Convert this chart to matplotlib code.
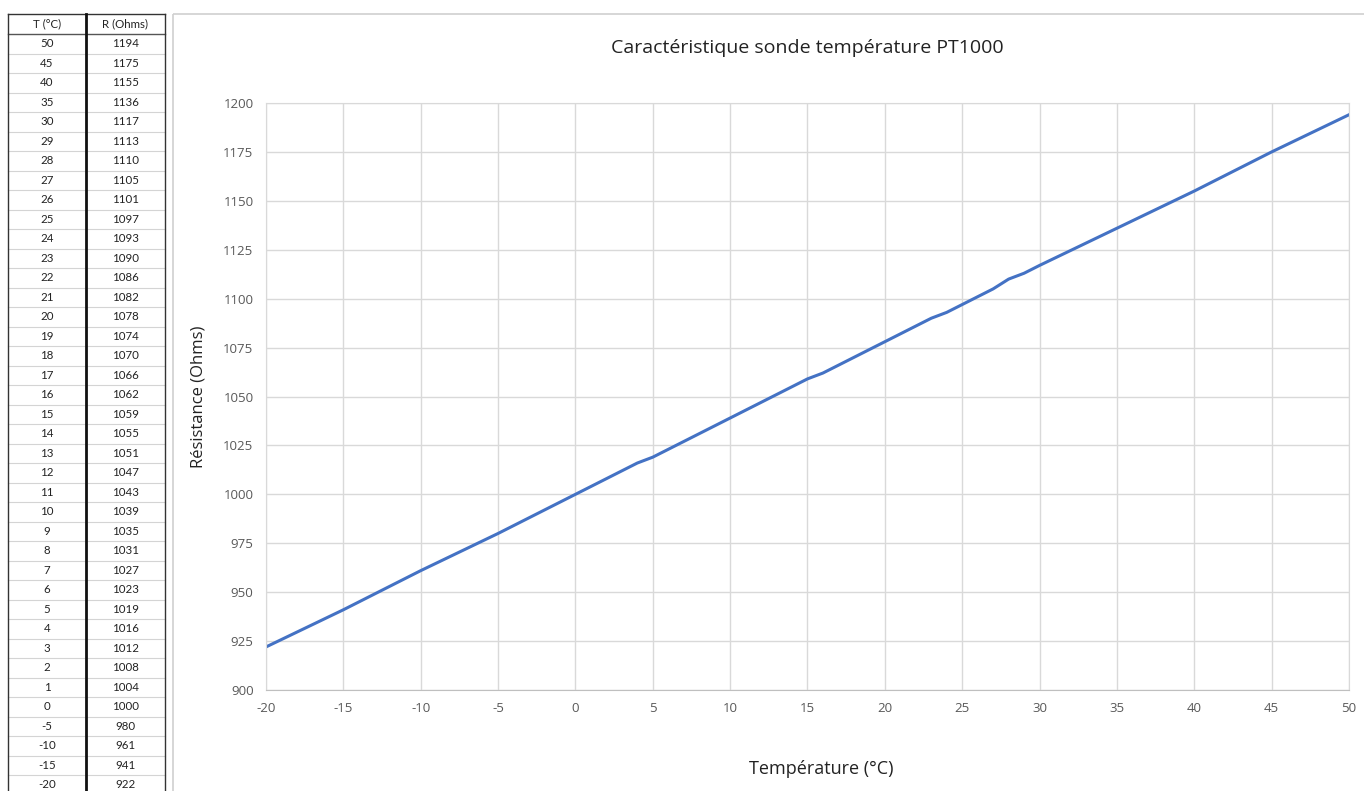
import matplotlib.pyplot as plt
from matplotlib.patches import Rectangle

# Données du tableau (T en °C, R en Ohms)
temperatures = [50, 45, 40, 35, 30, 29, 28, 27, 26, 25, 24, 23, 22, 21, 20, 19, 18, 17, 16, 15,
                14, 13, 12, 11, 10, 9, 8, 7, 6, 5, 4, 3, 2, 1, 0, -5, -10, -15, -20]
resistances = [1194, 1175, 1155, 1136, 1117, 1113, 1110, 1105, 1101, 1097, 1093, 1090, 1086, 1082,
               1078, 1074, 1070, 1066, 1062, 1059, 1055, 1051, 1047, 1043, 1039, 1035, 1031, 1027,
               1023, 1019, 1016, 1012, 1008, 1004, 1000, 980, 961, 941, 922]
x_ticks = list(range(-20, 51, 5))
y_ticks = list(range(900, 1201, 25))

W, H = 1364, 791
fig = plt.figure(figsize=(W / 100, H / 100), dpi=100)
plt.rcParams['font.family'] = ['Open Sans', 'DejaVu Sans']
plt.rcParams['axes.unicode_minus'] = False

# Fond / tableau en coordonnées pixel
bg = fig.add_axes([0, 0, 1, 1])
bg.set_xlim(0, W)
bg.set_ylim(H, 0)
bg.axis('off')

# cadre du graphique
bg.add_patch(Rectangle((173, 14), W, H, fill=False, edgecolor='#d0d0d0', lw=1.2))

# tableau
x0, xm, x1 = 8, 86, 165
top, head_h, row_h = 14, 20, 19.5
tab_font = dict(ha='center', va='center', fontsize=8.3, color='#222222', family=['Lato', 'DejaVu Sans'])
bg.text((x0 + xm) / 2, top + head_h / 2, 'T (°C)', **tab_font)
bg.text((xm + x1) / 2, top + head_h / 2, 'R (Ohms)', **tab_font)
bg.plot([x0, x1], [top, top], color='#333333', lw=1)
bg.plot([x0, x1], [top + head_h, top + head_h], color='#555555', lw=1)
for i, (t, r) in enumerate(zip(temperatures, resistances)):
    yc = top + head_h + row_h * (i + 0.5)
    bg.text((x0 + xm) / 2, yc, str(t), **tab_font)
    bg.text((xm + x1) / 2, yc, str(r), **tab_font)
    bg.plot([x0, x1], [yc + row_h / 2, yc + row_h / 2], color='#d4d4d4', lw=0.8)
bg.plot([x0, x0], [top, H], color='#333333', lw=1)
bg.plot([xm, xm], [top, H], color='#111111', lw=2)
bg.plot([x1, x1], [top, H], color='#333333', lw=1)

# Graphique
ax = fig.add_axes([266 / W, 1 - 690 / H, (1349 - 266) / W, (690 - 103) / H])
ax.plot(temperatures, resistances, color='#4472C4', lw=2.2, solid_joinstyle='round')
ax.set_xlim(-20, 50)
ax.set_ylim(900, 1200)
ax.set_xticks(x_ticks)
ax.set_yticks(y_ticks)
ax.grid(True, color='#d9d9d9', lw=1)
ax.set_axisbelow(True)
for s in ax.spines.values():
    s.set_color('#d9d9d9')
ax.spines['bottom'].set_color('#bfbfbf')
ax.tick_params(length=0, labelsize=9.5, colors='#595959', pad=9)
ax.set_title('Caractéristique sonde température PT1000', fontsize=14, color='#222222', pad=36)
ax.set_xlabel('Température (°C)', fontsize=13, color='#222222', labelpad=32)
ax.xaxis.label.set_x(0.5125)
ax.set_ylabel('Résistance (Ohms)', fontsize=12, color='#222222', labelpad=12)

fig.savefig('out.png', dpi=100)
